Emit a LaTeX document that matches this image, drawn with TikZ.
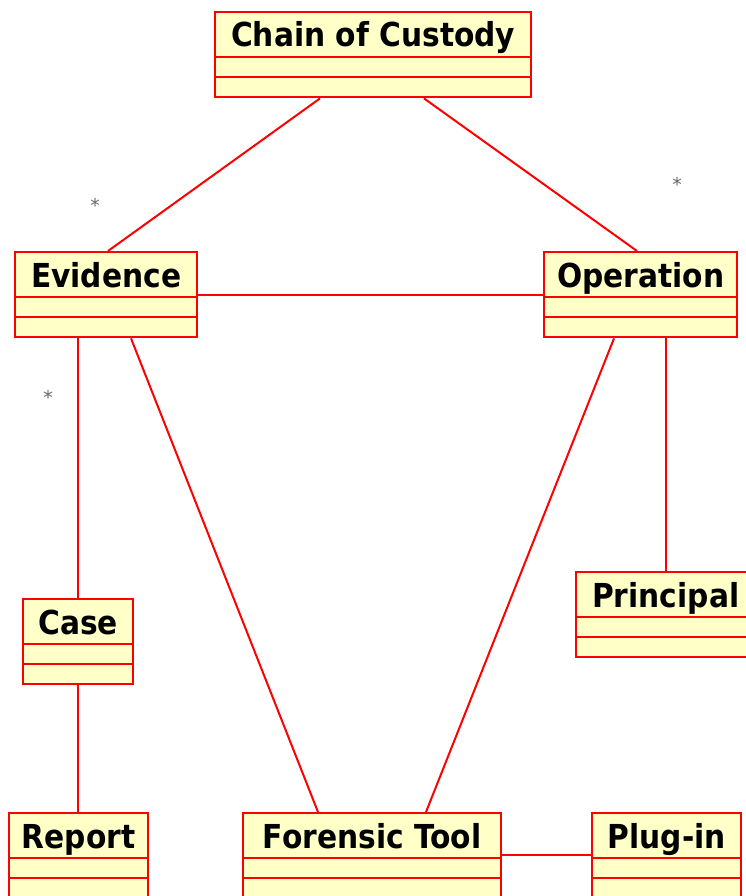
\documentclass[tikz,border=0pt]{standalone}
\usepackage{fontspec}
\newfontfamily\classfont{DejaVu Sans Bold}[FakeStretch=0.9]
\newfontfamily\starfont{DejaVu Sans}
\usetikzlibrary{calc}
\definecolor{umlred}{HTML}{FF0000}
\definecolor{umlfill}{HTML}{FFFFC8}
\definecolor{stargray}{HTML}{666666}
\tikzset{
  classbox/.style={draw=umlred, line width=2.4pt, fill=umlfill, rectangle, inner sep=0pt, minimum height=85pt, anchor=north west},
  classline/.style={draw=umlred, line width=2.4pt},
  classtitle/.style={font=\classfont\fontsize{33}{36}\selectfont, text=black, inner sep=0pt, anchor=base},
  assoc/.style={draw=umlred, line width=2pt},
  mult/.style={font=\starfont\fontsize{19}{20}\selectfont, text=stargray, inner sep=0pt, anchor=base}
}
\newcommand{\umlclass}[5]{%
  \node[classbox, minimum width=#4pt] (#1) at (#2,-#3) {};
  \draw[classline] ($(#1.north west)+(0,-46)$) -- ($(#1.north east)+(0,-46)$);
  \draw[classline] ($(#1.north west)+(0,-66)$) -- ($(#1.north east)+(0,-66)$);
  \node[classtitle] (#1-t) at ($(#1.north)+(0,-36)$) {#5};
}
\begin{document}
\begin{tikzpicture}[x=1pt,y=1pt]
\useasboundingbox (0,0) rectangle (746,-896);
\clip (0,0) rectangle (746,-896);
\fill[white] (0,0) rectangle (746,-896);
\umlclass{coc}{214}{11}{316}{Chain of Custody}
\umlclass{ev}{14}{251}{182}{Evidence}
\umlclass{op}{543}{251}{193}{Operation}
\umlclass{case}{22}{598}{110}{Case}
\umlclass{prin}{575}{571}{179}{Principal}
\umlclass{rep}{8}{812}{139}{Report}
\umlclass{ft}{242}{812}{258}{Forensic Tool}
\umlclass{plug}{591}{812}{149}{Plug-in}
\draw[assoc] ($(coc.south west)+(106,0)$) -- ($(ev.north west)+(94,0)$);
\draw[assoc] ($(coc.south west)+(210,0)$) -- ($(op.north west)+(94,0)$);
\draw[assoc] (ev.east) -- (op.west);
\draw[assoc] ($(ev.south west)+(64,0)$) -- ($(case.north west)+(56,0)$);
\draw[assoc] ($(ev.south west)+(117,0)$) -- ($(ft.north west)+(76,0)$);
\draw[assoc] ($(op.south west)+(71,0)$) -- ($(ft.north west)+(184,0)$);
\draw[assoc] ($(op.south west)+(123,0)$) -- ($(prin.north west)+(91,0)$);
\draw[assoc] ($(case.south west)+(56,0)$) -- ($(rep.north west)+(70,0)$);
\draw[assoc] ($(ft.north east)+(0,-43)$) -- ($(plug.north west)+(0,-43)$);
\node[mult] (m1) at (95,-212) {*};
\node[mult] (m2) at (677,-191) {*};
\node[mult] (m3) at (48,-404) {*};
\end{tikzpicture}
\end{document}
